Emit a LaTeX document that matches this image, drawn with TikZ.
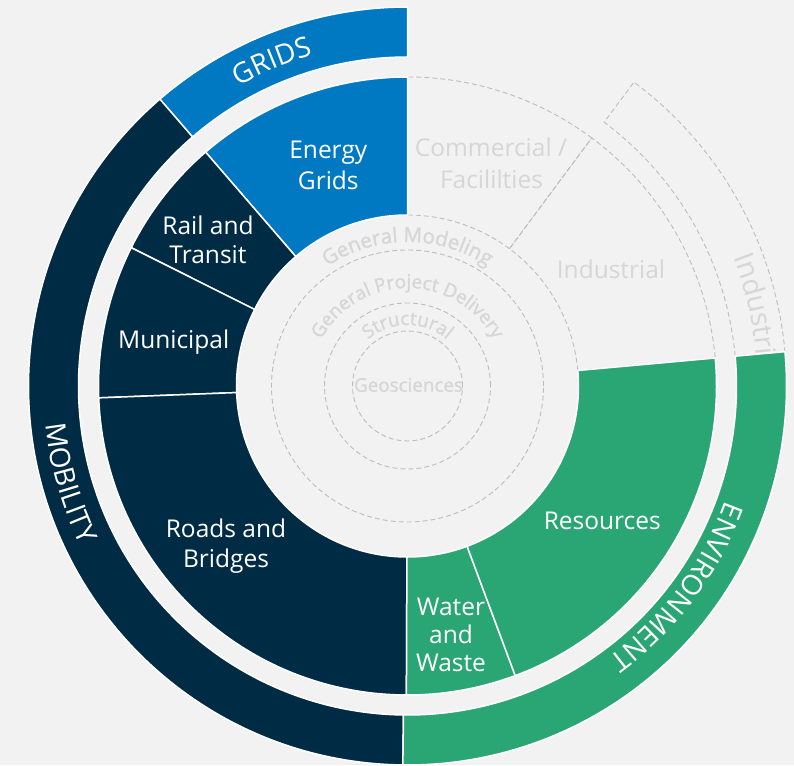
\documentclass[tikz,border=0pt]{standalone}
\usepackage{fontspec}
\setmainfont{Open Sans}
\newfontfamily\semib{Open Sans}[FakeBold=1.3]
\usetikzlibrary{calc,decorations.text}
\definecolor{bgc}{HTML}{F2F2F2}
\definecolor{navyc}{HTML}{002B45}
\definecolor{bluec}{HTML}{0079C2}
\definecolor{greenc}{HTML}{2AA674}
\definecolor{dashc}{HTML}{BDBDBD}
\definecolor{ltext}{HTML}{D6D6D6}
\newcommand\ringfont{\fontsize{28}{34}\selectfont}
\newcommand\ctrfont{\semib\fontsize{18.8}{22}\selectfont}
\newcommand\ctrbig{\semib\fontsize{20.5}{24}\selectfont}
\newcommand\annsec[5]{%
  \path[#1] ($(c)+(#2:#4pt)$) arc[start angle=#2,end angle=#3,radius=#4pt]
    -- ($(c)+(#3:#5pt)$) arc[start angle=#3,end angle=#2,radius=#5pt] -- cycle;}
\begin{document}
\begin{tikzpicture}[x=1pt,y=1pt,
  colseg/.style={fill=#1,draw=white,line width=1.5pt,line join=miter},
  dashseg/.style={draw=dashc,dash pattern=on 5pt off 3pt,line width=0.9pt},
  seglabel/.style={text=white,font=\fontsize{24.5}{29}\selectfont,inner sep=0pt,anchor=base},
  greylabel/.style={text=ltext,font=\fontsize{24.5}{29}\selectfont,inner sep=0pt,anchor=base},
  ctrlabel/.style={text=ltext,font=\ctrfont,inner sep=0pt,anchor=base}]
\useasboundingbox (0,0) rectangle (794,-765);
\fill[bgc] (0,0) rectangle (794,-765);
\coordinate (c) at (407.5,-386);

% grey (dashed) segments
\annsec{dashseg}{53.4}{90}{171}{309}
\annsec{dashseg}{5.2}{53.4}{171}{309}
\annsec{dashseg}{5.2}{53.3}{329}{379}
\path[decorate,decoration={text along path,text={|\ringfont|Industrial},text color=ltext,text align=left}]
  ($(c)+(21.5:350pt)$) arc[start angle=21.5,end angle=-25,radius=350pt];

% coloured segments, inner ring
\annsec{colseg=bluec}{90}{130.8}{171}{309}
\annsec{colseg=navyc}{130.8}{153.4}{171}{309}
\annsec{colseg=navyc}{153.4}{182.2}{171}{309}
\annsec{colseg=navyc}{182.2}{269.8}{171}{309}
\annsec{colseg=greenc}{269.8}{290.4}{171}{309}
\annsec{colseg=greenc}{290.4}{365.2}{171}{309}
% outer ring
\annsec{colseg=bluec}{90}{130.8}{329}{379}
\annsec{colseg=navyc}{130.8}{269.3}{329}{379}
\annsec{colseg=greenc}{269.3}{365.2}{329}{379}

% ring labels
\path[decorate,decoration={text along path,text={|\ringfont|GRIDS},text color=white,text align=center}]
  ($(c)+(135.2:344pt)$) arc[start angle=135.2,end angle=90.2,radius=344pt];
\path[decorate,decoration={text along path,text={|\ringfont|MOBILITY},text color=white,text align=center}]
  ($(c)+(171:364pt)$) arc[start angle=171,end angle=221,radius=364pt];
\path[decorate,decoration={text along path,text={|\ringfont|ENVIRONMENT},text color=white,text align=center}]
  ($(c)+(-5:338pt)$) arc[start angle=-5,end angle=-68.4,radius=338pt];

% inner dashed circles
\draw[dashseg] (c) circle[radius=136pt];
\draw[dashseg] (c) circle[radius=83pt];
\draw[dashseg] (c) circle[radius=55pt];

% curved centre labels
\path[decorate,decoration={text along path,text={|\ctrbig|General Modeling},text color=ltext,text align=center}]
  ($(c)+(180:144pt)$) arc[start angle=180,end angle=0,radius=144pt];
\path[decorate,decoration={text along path,text={|\ctrfont|General Project Delivery},text color=ltext,text align=center}]
  ($(c)+(180:98pt)$) arc[start angle=180,end angle=0,radius=98pt];
\path[decorate,decoration={text along path,text={|\ctrfont|Structural},text color=ltext,text align=center}]
  ($(c)+(180:61pt)$) arc[start angle=180,end angle=0,radius=61pt];
\node[ctrlabel] (geo) at (408.5,-391.7) {Geosciences};

% segment labels
\node[seglabel] (eg1) at (328.3,-158.5) {Energy};
\node[seglabel] (eg2) at (328.3,-189) {Grids};
\node[seglabel] (rt1) at (208,-234) {Rail and};
\node[seglabel] (rt2) at (208,-263) {Transit};
\node[seglabel] (mun) at (173.7,-348.3) {Municipal};
\node[seglabel] (rb1) at (226,-537) {Roads and};
\node[seglabel] (rb2) at (226,-567) {Bridges};
\node[seglabel] (ww1) at (451,-615) {Water};
\node[seglabel] (ww2) at (451,-643.3) {and};
\node[seglabel] (ww3) at (451,-671) {Waste};
\node[seglabel] (res) at (602.3,-529) {Resources};
\node[greylabel] (cf1) at (491,-156.7) {Commercial /};
\node[greylabel] (cf2) at (491.5,-188.3) {Facililties};
\node[greylabel] (ind) at (611,-278) {Industrial};
\end{tikzpicture}
\end{document}
